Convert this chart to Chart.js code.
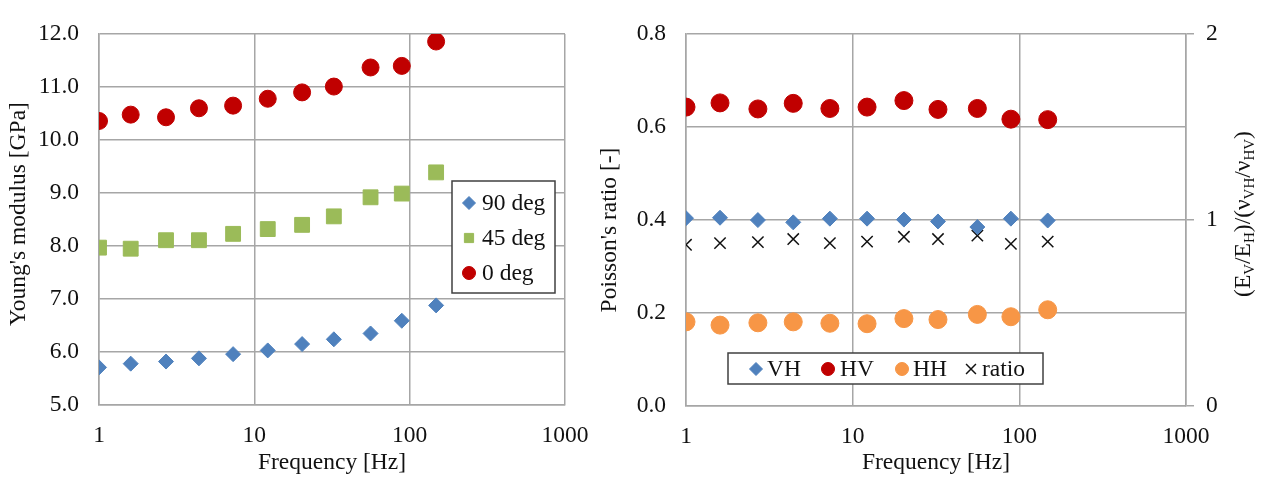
<!DOCTYPE html>
<html>
<head>
<meta charset="utf-8">
<script src="https://cdn.jsdelivr.net/npm/chart.js@4.4.1/dist/chart.umd.min.js"></script>
<style>
  html, body { margin: 0; padding: 0; background: #fff; }
  #wrap { position: relative; width: 1263px; height: 483px; }
  canvas { position: absolute; top: 0; }
  #chart_E { left: 0; }
  #chart_P { left: 600px; }
</style>
</head>
<body>
<div id="wrap">
  <canvas id="chart_E" width="600" height="483"></canvas>
  <canvas id="chart_P" width="663" height="483"></canvas>
</div>
<script>
/* ------------------
  data
-------------------*/
// test frequencies [Hz]
var freq = [1, 1.6, 2.7, 4.4, 7.3, 12.2, 20.3, 32.5, 56, 89, 148];
var freqTicks = [1, 10, 100, 1000];

// Young's modulus [GPa]
var E_90 = [5.71, 5.78, 5.82, 5.88, 5.96, 6.03, 6.15, 6.24, 6.35, 6.59, 6.88];
var E_45 = [7.97, 7.95, 8.11, 8.11, 8.23, 8.32, 8.40, 8.56, 8.92, 8.99, 9.39];
var E_0 = [10.36, 10.48, 10.43, 10.60, 10.65, 10.78, 10.90, 11.01, 11.37, 11.40, 11.86];

// Poisson's ratio [-]
var nu_VH = [0.404, 0.405, 0.400, 0.395, 0.403, 0.403, 0.401, 0.397, 0.385, 0.403, 0.399];
var nu_HV = [0.643, 0.652, 0.639, 0.651, 0.640, 0.643, 0.657, 0.638, 0.640, 0.617, 0.616];
var nu_HH = [0.181, 0.174, 0.179, 0.181, 0.178, 0.177, 0.188, 0.186, 0.197, 0.192, 0.207];
// (E_V/E_H)/(nu_VH/nu_HV), right axis
var ratio = [0.867, 0.876, 0.881, 0.898, 0.876, 0.884, 0.910, 0.898, 0.916, 0.872, 0.884];

/* ------------------
  common styling
-------------------*/
var FONT = "'Liberation Serif', 'Times New Roman', serif";
var gridColor = '#a6a6a6';
Chart.defaults.font.family = FONT;
Chart.defaults.font.size = 23.5;
Chart.defaults.color = '#111';

function pts(ys) {
  return freq.map(function (f, i) { return {x: f, y: ys[i]}; });
}

function series(label, ys, style, color, r, axis) {
  return {
    label: label,
    data: pts(ys),
    yAxisID: axis || 'y',
    pointStyle: style,
    pointRadius: r,
    pointHoverRadius: r,
    pointBackgroundColor: color,
    pointBorderColor: color,
    pointBorderWidth: style === 'crossRot' ? 1.5 : 1,
    showLine: false
  };
}

function freqAxis(h) {
  return {
    type: 'logarithmic',
    min: 1,
    max: 1000,
    afterBuildTicks: function (s) { s.ticks = freqTicks.map(function (v) { return {value: v}; }); },
    // fixed axis height; end labels may overhang into the layout padding
    afterFit: function (s) { s.height = h; s.paddingLeft = 0; s.paddingRight = 0; },
    ticks: { padding: 17, maxRotation: 0, autoSkip: false, callback: function (v) { return String(v); } },
    grid: { color: gridColor, lineWidth: 1.5, drawTicks: false },
    border: { color: gridColor, width: 1.5 },
    title: { display: true, text: 'Frequency [Hz]', padding: {top: 2, bottom: 6} }
  };
}

// legend box drawn inside the plot
var boxLegend = {
  id: 'boxLegend',
  afterDraw: function (chart, args, o) {
    var ctx = chart.ctx;
    ctx.save();
    ctx.fillStyle = '#fff';
    ctx.fillRect(o.box[0], o.box[1], o.box[2], o.box[3]);
    ctx.strokeStyle = '#404040';
    ctx.lineWidth = 1.5;
    ctx.strokeRect(o.box[0], o.box[1], o.box[2], o.box[3]);
    ctx.font = '23.5px ' + FONT;
    ctx.textBaseline = 'middle';
    chart.data.datasets.forEach(function (ds, i) {
      var it = o.items[i];
      ctx.fillStyle = ds.pointBackgroundColor;
      ctx.strokeStyle = ds.pointBorderColor;
      ctx.lineWidth = ds.pointBorderWidth;
      Chart.helpers.drawPoint(ctx, {
        pointStyle: ds.pointStyle,
        radius: ds.pointStyle === 'crossRot' ? 7 : o.radius,
        rotation: 0,
        borderWidth: ds.pointBorderWidth
      }, it[0], it[2]);
      ctx.fillStyle = '#111';
      ctx.fillText(ds.label, it[1], it[2] + 1);
    });
    ctx.restore();
  }
};

// rotated axis titles, runs of [text, subscript?]
var sideTitles = {
  id: 'sideTitles',
  afterDraw: function (chart, args, o) {
    var ctx = chart.ctx;
    o.titles.forEach(function (t) {
      ctx.save();
      ctx.translate(t.x, t.y);
      ctx.rotate(-Math.PI / 2);
      ctx.fillStyle = '#111';
      ctx.textBaseline = 'middle';
      var total = 0;
      t.runs.forEach(function (r) {
        ctx.font = (r[1] ? '15px ' : '23.5px ') + FONT;
        total += ctx.measureText(r[0]).width;
      });
      var x = -total / 2;
      t.runs.forEach(function (r) {
        ctx.font = (r[1] ? '15px ' : '23.5px ') + FONT;
        ctx.fillText(r[0], x, r[1] ? 6 : 0);
        x += ctx.measureText(r[0]).width;
      });
      ctx.restore();
    });
  }
};

/* ------------------
  Young's modulus chart
-------------------*/
var chart_E = new Chart(document.getElementById('chart_E'), {
  type: 'scatter',
  data: {
    datasets: [
      series('90 deg', E_90, 'rectRot', '#4f81bd', 7.5),
      series('45 deg', E_45, 'rect', '#9bbb59', 10.5),
      series('0 deg', E_0, 'circle', '#c00000', 8.5)
    ]
  },
  options: {
    responsive: false,
    animation: false,
    layout: { padding: { top: 20, right: 35, bottom: 0, left: 0 } },
    scales: {
      x: freqAxis(78),
      y: {
        min: 5,
        max: 12,
        afterFit: function (s) { s.width = 99; },
        ticks: { stepSize: 1, padding: 20, callback: function (v) { return v.toFixed(1); } },
        grid: { color: gridColor, lineWidth: 1.5, drawTicks: false },
        border: { color: gridColor, width: 1.5 }
      }
    },
    plugins: {
      legend: { display: false },
      tooltip: { enabled: false },
      boxLegend: { box: [452, 181, 103, 112], radius: 6.5, items: [[469, 482, 203], [469, 482, 238], [469, 482, 273]] },
      sideTitles: { titles: [{ x: 19, y: 214, runs: [["Young's modulus [GPa]", false]] }] }
    }
  },
  plugins: [boxLegend, sideTitles]
});

/* ------------------
  Poisson's ratio chart
-------------------*/
var chart_P = new Chart(document.getElementById('chart_P'), {
  type: 'scatter',
  data: {
    datasets: [
      series('VH', nu_VH, 'rectRot', '#4f81bd', 7.5),
      series('HV', nu_HV, 'circle', '#c00000', 9),
      series('HH', nu_HH, 'circle', '#f79646', 9),
      series('ratio', ratio, 'crossRot', '#111', 8, 'y2')
    ]
  },
  options: {
    responsive: false,
    animation: false,
    layout: { padding: { top: 20, right: 0, bottom: 0, left: 0 } },
    scales: {
      x: freqAxis(77),
      y: {
        position: 'left',
        min: 0,
        max: 0.8,
        afterFit: function (s) { s.width = 86; },
        ticks: { stepSize: 0.2, padding: 20, callback: function (v) { return v.toFixed(1); } },
        grid: { color: gridColor, lineWidth: 1.5, drawTicks: false },
        border: { color: gridColor, width: 1.5 }
      },
      y2: {
        position: 'right',
        min: 0,
        max: 2,
        afterFit: function (s) { s.width = 77; },
        ticks: { stepSize: 1, padding: 12, callback: function (v) { return String(v); } },
        grid: { drawOnChartArea: false, color: gridColor, lineWidth: 1.5, tickLength: 8 },
        border: { color: gridColor, width: 1.5 }
      }
    },
    plugins: {
      legend: { display: false },
      tooltip: { enabled: false },
      boxLegend: { box: [128, 353, 315, 31], radius: 6.5, items: [[156, 167, 369], [228, 240, 369], [302, 313, 369], [371, 382, 369]] },
      sideTitles: {
        titles: [
          { x: 10, y: 230, runs: [["Poisson's ratio [-]", false]] },
          { x: 644, y: 214, runs: [['(E', false], ['V', true], ['/E', false], ['H', true], [')/(\u03bd', false], ['VH', true], ['/\u03bd', false], ['HV', true], [')', false]] }
        ]
      }
    }
  },
  plugins: [boxLegend, sideTitles]
});
</script>
</body>
</html>
